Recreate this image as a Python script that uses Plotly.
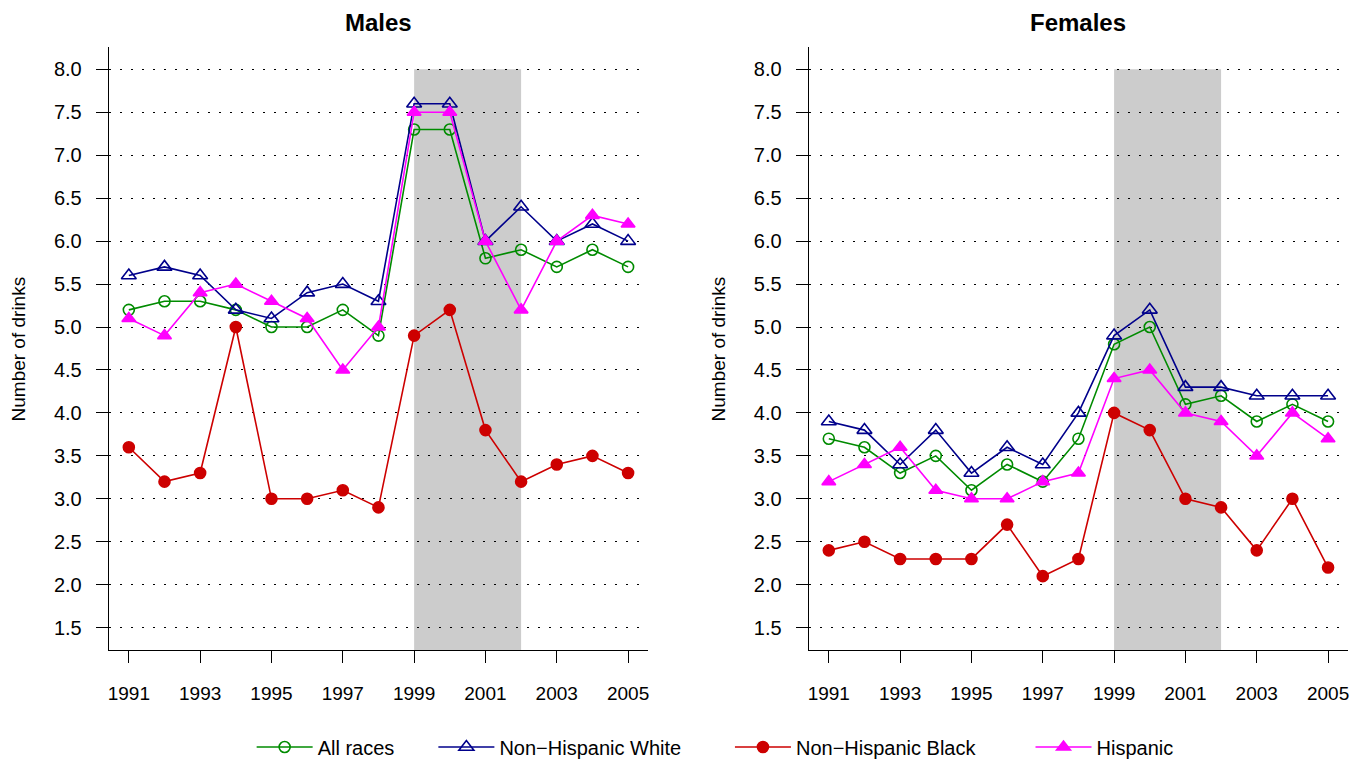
import plotly.graph_objects as go

years = list(range(1991, 2006))

males_all = [5.2, 5.3, 5.3, 5.2, 5.0, 5.0, 5.2, 4.9, 7.3, 7.3, 5.8, 5.9, 5.7, 5.9, 5.7]
males_white = [5.6, 5.7, 5.6, 5.2, 5.1, 5.4, 5.5, 5.3, 7.6, 7.6, 6.0, 6.4, 6.0, 6.2, 6.0]
males_black = [3.6, 3.2, 3.3, 5.0, 3.0, 3.0, 3.1, 2.9, 4.9, 5.2, 3.8, 3.2, 3.4, 3.5, 3.3]
males_hisp = [5.1, 4.9, 5.4, 5.5, 5.3, 5.1, 4.5, 5.0, 7.5, 7.5, 6.0, 5.2, 6.0, 6.3, 6.2]

females_all = [3.7, 3.6, 3.3, 3.5, 3.1, 3.4, 3.2, 3.7, 4.8, 5.0, 4.1, 4.2, 3.9, 4.1, 3.9]
females_white = [3.9, 3.8, 3.4, 3.8, 3.3, 3.6, 3.4, 4.0, 4.9, 5.2, 4.3, 4.3, 4.2, 4.2, 4.2]
females_black = [2.4, 2.5, 2.3, 2.3, 2.3, 2.7, 2.1, 2.3, 4.0, 3.8, 3.0, 2.9, 2.4, 3.0, 2.2]
females_hisp = [3.2, 3.4, 3.6, 3.1, 3.0, 3.0, 3.2, 3.3, 4.4, 4.5, 4.0, 3.9, 3.5, 4.0, 3.7]

series_names = ["All races", "Non\u2212Hispanic White", "Non\u2212Hispanic Black", "Hispanic"]
x_tick_years = [1991, 1993, 1995, 1997, 1999, 2001, 2003, 2005]
y_tick_values = [1.5, 2.0, 2.5, 3.0, 3.5, 4.0, 4.5, 5.0, 5.5, 6.0, 6.5, 7.0, 7.5, 8.0]
shade_start, shade_end, shade_top = 1999, 2002, 8.0
panel_titles = ["Males", "Females"]

W, H = 1365, 762
OFF = 8  # page body margin offset compensation
FONT = "Liberation Sans, Arial, Helvetica, sans-serif"
FS = 19

colors = ["#008B00", "#00008B", "#CD0000", "#FF00FF"]
symbols = ["circle-open", "triangle-up-open", "circle", "triangle-up"]
sizes = [11, 13, 11, 12]

# R-style axis extension (4%)
xr = [years[0] - 0.04 * (years[-1] - years[0]), years[-1] + 0.04 * (years[-1] - years[0])]
yspan = y_tick_values[-1] - y_tick_values[0]
yr = [y_tick_values[0] - 0.04 * yspan, y_tick_values[-1] + 0.04 * yspan]

def px_x(p):
    return (p - OFF) / W

def px_y(p):
    return 1 - (p - OFF) / H

fig = go.Figure()

panels = [
    ([males_all, males_white, males_black, males_hisp], "x", "y"),
    ([females_all, females_white, females_black, females_hisp], "x2", "y2"),
]
legend_ids = ["legend", "legend2", "legend3", "legend4"]

for pi, (data, xa, ya) in enumerate(panels):
    for si, vals in enumerate(data):
        fig.add_trace(go.Scatter(
            x=years, y=vals, mode="lines+markers", name=series_names[si],
            xaxis=xa, yaxis=ya,
            line=dict(color=colors[si], width=1.6),
            marker=dict(symbol=symbols[si], size=sizes[si], color=colors[si],
                        line=dict(color=colors[si], width=1.6)),
            showlegend=(pi == 0), legend=legend_ids[si],
        ))

x_dom1 = [px_x(108), px_x(648)]
x_dom2 = [px_x(809), px_x(1349)]
y_dom = [px_y(650), px_y(47)]

def xaxis_cfg(dom, anchor):
    return dict(domain=dom, anchor=anchor, range=xr, tickvals=x_tick_years,
                ticktext=[str(v) for v in x_tick_years],
                showline=True, linecolor="black", linewidth=1.3, mirror=False,
                ticks="outside", ticklen=12, tickwidth=1.3, tickcolor="black",
                showgrid=False, zeroline=False, ticklabelstandoff=14,
                tickfont=dict(family=FONT, size=FS, color="black"))

def yaxis_cfg(anchor):
    return dict(domain=y_dom, anchor=anchor, range=yr, tickvals=y_tick_values,
                ticktext=[f"{v:.1f}" for v in y_tick_values],
                showline=True, linecolor="black", linewidth=1.3, mirror=False,
                ticks="outside", ticklen=12, tickwidth=1.3, tickcolor="black",
                showgrid=True, gridcolor="black", gridwidth=1, griddash="2px,9px",
                zeroline=False, ticklabelstandoff=10,
                tickfont=dict(family=FONT, size=FS + 1, color="black"))

shapes = []
for xa, ya in [("x", "y"), ("x2", "y2")]:
    shapes.append(dict(type="rect", xref=xa, yref=ya, x0=shade_start, x1=shade_end,
                       y0=yr[0], y1=shade_top, fillcolor="#CCCCCC",
                       line=dict(width=0), layer="below"))

annotations = []
for i, dom in enumerate([x_dom1, x_dom2]):
    annotations.append(dict(text=f"<b>{panel_titles[i]}</b>", xref="paper", yref="paper",
                            x=(dom[0] + dom[1]) / 2, y=1.0, showarrow=False,
                            xanchor="center", yanchor="top", borderpad=0,
                            font=dict(family=FONT, size=24, color="black")))
for xpix in [18, 719]:
    annotations.append(dict(text="Number of drinks", xref="paper", yref="paper",
                            x=px_x(xpix), y=(y_dom[0] + y_dom[1]) / 2, showarrow=False,
                            textangle=-90, xanchor="center", yanchor="middle",
                            font=dict(family=FONT, size=FS, color="black")))

legend_x_px = [251, 433, 730, 1031]
layout_legends = {}
for lid, xp in zip(legend_ids, legend_x_px):
    layout_legends[lid] = dict(x=px_x(xp), y=px_y(747), xanchor="left", yanchor="middle",
                               orientation="h", bgcolor="rgba(0,0,0,0)",
                               font=dict(family=FONT, size=20, color="black"),
                               itemwidth=56, tracegroupgap=0)

fig.update_layout(
    width=W, height=H, margin=dict(l=0, r=0, t=0, b=0),
    paper_bgcolor="white", plot_bgcolor="white",
    font=dict(family=FONT, size=FS, color="black"),
    xaxis=xaxis_cfg(x_dom1, "y"), yaxis=yaxis_cfg("x"),
    xaxis2=xaxis_cfg(x_dom2, "y2"), yaxis2=yaxis_cfg("x2"),
    shapes=shapes, annotations=annotations,
    **layout_legends,
)

fig.write_html("out.html")
